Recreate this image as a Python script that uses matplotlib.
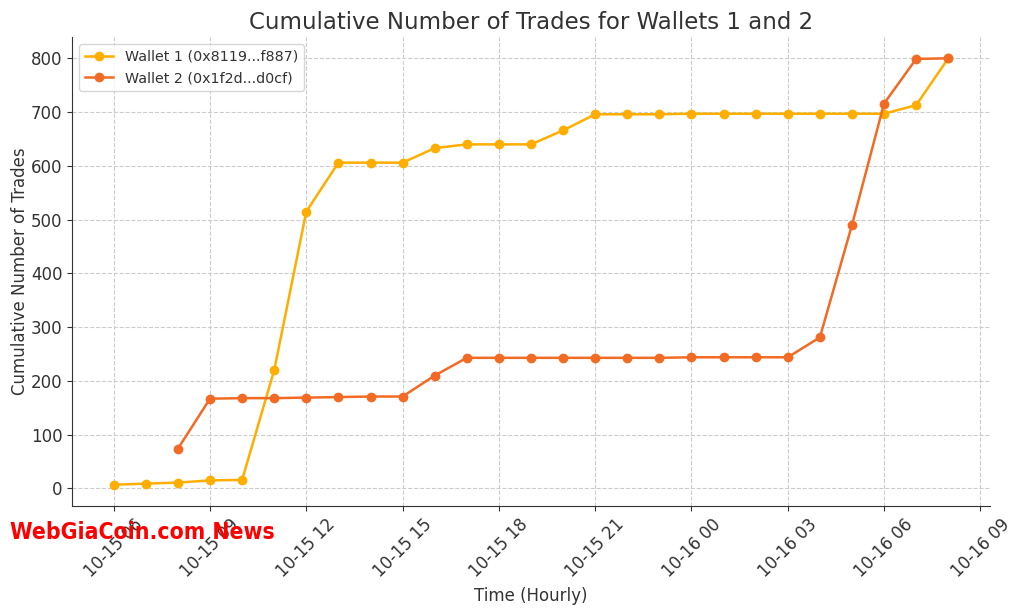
import matplotlib
matplotlib.use("Agg")
import matplotlib.pyplot as plt
import matplotlib.dates as mdates
import pandas as pd

plt.rcParams["font.family"] = ["DejaVu Sans"]

hours1 = pd.date_range("2024-10-15 06:00", "2024-10-16 08:00", freq="h")
wallet1 = [7, 9, 11, 15, 16, 220, 515, 606, 606, 606, 633, 640, 640, 640, 666,
           696, 696, 696, 697, 697, 697, 697, 697, 697, 697, 713, 800]
hours2 = pd.date_range("2024-10-15 08:00", "2024-10-16 08:00", freq="h")
wallet2 = [74, 167, 168, 168, 169, 170, 171, 171, 210, 243, 243, 243, 243, 243,
           243, 243, 244, 244, 244, 244, 281, 490, 716, 799, 800]
label1 = "Wallet 1 (0x8119...f887)"
label2 = "Wallet 2 (0x1f2d...d0cf)"

fig = plt.figure(figsize=(10.24, 6.11), dpi=100)
ax = fig.add_axes([0.0703, 0.1718, 0.8965, 0.7676])
ax.plot(hours1, wallet1, marker="o", color="#FFAE00", lw=1.8, ms=6, label=label1)
ax.plot(hours2, wallet2, marker="o", color="#F26A24", lw=1.8, ms=6, label=label2)

ax.xaxis.set_major_locator(mdates.HourLocator(byhour=range(0, 24, 3)))
ax.xaxis.set_major_formatter(mdates.DateFormatter("%m-%d %H"))
for lbl in ax.get_xticklabels():
    lbl.set_rotation(45)
ax.tick_params(axis="both", labelsize=12, colors="#333333", labelcolor="#333333")
ax.grid(True, linestyle="--", color="#cccccc", lw=0.8)
for s in ["top", "right"]:
    ax.spines[s].set_visible(False)
for s in ["left", "bottom"]:
    ax.spines[s].set_color("#333333")
ax.set_title("Cumulative Number of Trades for Wallets 1 and 2", fontsize=16.5, color="#333333")
ax.set_xlabel("Time (Hourly)", fontsize=12, color="#333333")
ax.set_ylabel("Cumulative Number of Trades", fontsize=12, color="#333333", labelpad=1)
leg = ax.legend(loc="upper left", fontsize=10.3)
for t in leg.get_texts():
    t.set_color("#333333")

fig.text(0.01, 0.129, "WebGiaCoin.com News", color="#ff0000", fontsize=16.5,
         fontweight="bold", fontstretch="condensed", family=["DejaVu Sans"],
         va="center", ha="left")

fig.savefig("out.png", dpi=100)
